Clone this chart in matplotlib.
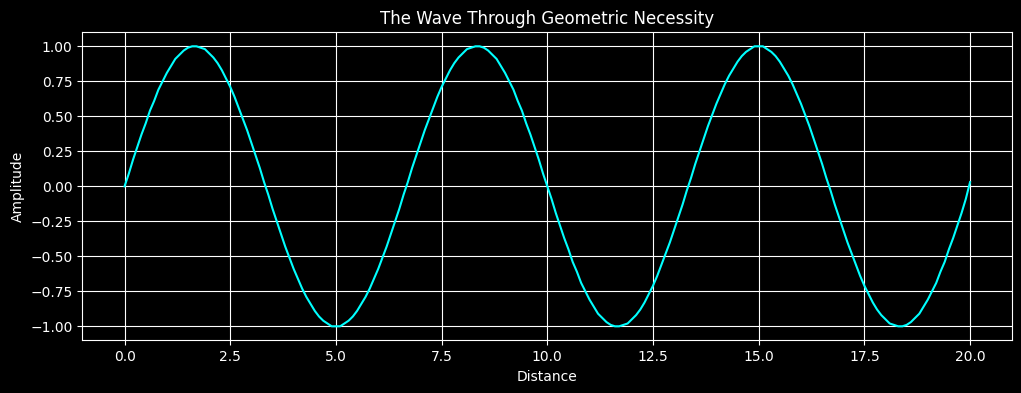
import matplotlib
matplotlib.use("Agg")
import matplotlib.pyplot as plt
import numpy as np

# amplitude every 0.1 distance units, from 0 to 20
amplitude = [
    0.00, 0.09, 0.19, 0.28, 0.37, 0.45, 0.54, 0.61, 0.69, 0.75,
    0.81, 0.86, 0.91, 0.94, 0.97, 0.99, 1.00, 1.00, 0.99, 0.98,
    0.95, 0.92, 0.88, 0.83, 0.77, 0.71, 0.64, 0.56, 0.48, 0.40,
    0.31, 0.22, 0.13, 0.03, -0.06, -0.16, -0.25, -0.34, -0.43, -0.51,
    -0.59, -0.66, -0.73, -0.79, -0.84, -0.89, -0.93, -0.96, -0.98, -1.00,
    -1.00, -1.00, -0.98, -0.96, -0.93, -0.89, -0.84, -0.79, -0.73, -0.66,
    -0.59, -0.51, -0.43, -0.34, -0.25, -0.16, -0.06, 0.03, 0.13, 0.22,
    0.31, 0.40, 0.48, 0.56, 0.64, 0.71, 0.77, 0.83, 0.88, 0.92,
    0.95, 0.98, 0.99, 1.00, 1.00, 0.99, 0.97, 0.94, 0.91, 0.86,
    0.81, 0.75, 0.69, 0.61, 0.54, 0.45, 0.37, 0.28, 0.19, 0.09,
    0.00, -0.09, -0.19, -0.28, -0.37, -0.45, -0.54, -0.61, -0.69, -0.75,
    -0.81, -0.86, -0.91, -0.94, -0.97, -0.99, -1.00, -1.00, -0.99, -0.98,
    -0.95, -0.92, -0.88, -0.83, -0.77, -0.71, -0.64, -0.56, -0.48, -0.40,
    -0.31, -0.22, -0.13, -0.03, 0.06, 0.16, 0.25, 0.34, 0.43, 0.51,
    0.59, 0.66, 0.73, 0.79, 0.84, 0.89, 0.93, 0.96, 0.98, 1.00,
    1.00, 1.00, 0.98, 0.96, 0.93, 0.89, 0.84, 0.79, 0.73, 0.66,
    0.59, 0.51, 0.43, 0.34, 0.25, 0.16, 0.06, -0.03, -0.13, -0.22,
    -0.31, -0.40, -0.48, -0.56, -0.64, -0.71, -0.77, -0.83, -0.88, -0.92,
    -0.95, -0.98, -0.99, -1.00, -1.00, -0.99, -0.97, -0.94, -0.91, -0.86,
    -0.81, -0.75, -0.69, -0.61, -0.54, -0.45, -0.37, -0.28, -0.19, -0.09,
    0.03,
]
# sample positions along the x axis
distance = np.linspace(0, 20, len(amplitude))

plt.style.use("dark_background")

fig, ax = plt.subplots(figsize=(10.21, 3.93), dpi=100)
fig.subplots_adjust(left=0.0806, right=0.9915, top=0.9178, bottom=0.1341)

ax.plot(distance, amplitude, color="cyan", linewidth=1.5)

ax.set_title("The Wave Through Geometric Necessity")
ax.set_xlabel("Distance")
ax.set_ylabel("Amplitude")
ax.grid(True, color="white", linewidth=0.8)

fig.savefig("out.png", dpi=100)
